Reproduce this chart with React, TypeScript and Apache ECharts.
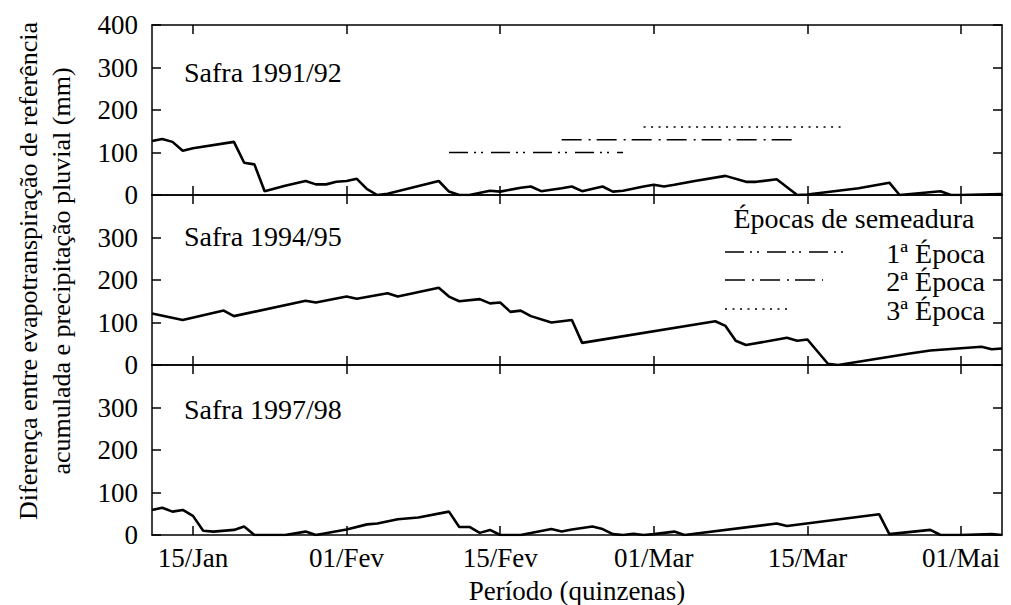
import React, { useEffect, useRef } from "react";
import * as echarts from "echarts";

// x = days counted from 15/Jan, y = accumulated ETo minus rainfall (mm)
const safra1991: [number, number][] = [
  [-4, 127], [-3, 132], [-2, 125], [-1, 104], [0, 110], [4, 125], [5, 76], [6, 72],
  [7, 9], [9, 22], [11, 33], [12, 25], [13, 25], [14, 31], [15, 33], [16, 38],
  [17, 14], [18, 0], [19, 3], [24, 33], [25, 8], [26, 0], [27, 0], [29, 10],
  [30, 8], [32, 17], [33, 20], [34, 9], [36, 16], [37, 20], [38, 9], [40, 20],
  [41, 8], [42, 10], [44, 20], [45, 24], [46, 20], [47, 24], [49, 33], [52, 45],
  [54, 31], [55, 31], [57, 37], [59, 0], [60, 1], [65, 16], [68, 29], [69, 0],
  [73, 9], [74, 0], [75, 0], [79, 2],
];

const safra1994: [number, number][] = [
  [-4, 121], [-1, 106], [3, 128], [4, 115], [11, 151], [12, 147], [15, 161],
  [16, 156], [19, 169], [20, 161], [24, 182], [25, 161], [26, 150], [28, 155],
  [29, 145], [30, 147], [31, 125], [32, 128], [33, 115], [35, 100], [37, 106],
  [38, 52], [51, 103], [52, 92], [53, 57], [54, 47], [58, 64], [59, 57], [60, 60],
  [62, 3], [63, 0], [70, 27], [72, 34], [77, 43], [78, 37], [79, 39],
];

const safra1997: [number, number][] = [
  [-4, 59], [-3, 64], [-2, 55], [-1, 59], [0, 45], [1, 10], [2, 8], [4, 12],
  [5, 20], [6, 0], [9, 0], [11, 8], [12, 0], [15, 13], [17, 25], [18, 27],
  [20, 37], [22, 41], [25, 55], [26, 19], [27, 19], [28, 5], [29, 12], [30, 0],
  [32, 0], [35, 14], [36, 8], [37, 13], [39, 20], [40, 14], [41, 2], [42, 0],
  [43, 3], [44, 0], [45, 2], [47, 8], [48, 0], [57, 27], [58, 21], [67, 49],
  [68, 2], [72, 12], [73, 0], [75, 0], [78, 2], [79, 0],
];

// Sowing periods drawn in the 1991/92 panel
const epocaNomes = ["1ª Época", "2ª Época", "3ª Época"];
const epocaInicio = [25, 36, 44];
const epocaFim = [42, 58.5, 63.5];
const epocaNivel = [100, 130, 160];

const safraNomes = ["Safra 1991/92", "Safra 1994/95", "Safra 1997/98"];
const quinzenaDias = [0, 15, 30, 45, 60, 75];
const quinzenas = ["15/Jan", "01/Fev", "15/Fev", "01/Mar", "15/Mar", "01/Mai"];
const yTicks = [0, 100, 200, 300, 400];

const X_MIN = -4;
const X_MAX = 79;
const Y_MAX = 400;
const FONT = "Times New Roman, Liberation Serif, DejaVu Serif, serif";
const FS = 27;

const GRID_W = 850;
const GRID_H = 170;
const TICK = 9; // tick length in pixels
const TICK_X = (TICK * (X_MAX - X_MIN)) / GRID_W; // same length in days
const TICK_Y = (TICK * Y_MAX) / GRID_H; // same length in mm

const dashes = [
  [19, 6, 2, 5, 2, 8],
  [20, 7, 2, 6],
  [2, 5.5],
];

// inward tick marks of one panel, expressed in data coordinates
function tickSegments() {
  const segs: any[] = [];
  quinzenaDias.forEach((d) => {
    segs.push([{ coord: [d, 0] }, { coord: [d, TICK_Y] }]);
    segs.push([{ coord: [d, Y_MAX] }, { coord: [d, Y_MAX - TICK_Y] }]);
  });
  yTicks.forEach((v) => {
    segs.push([{ coord: [X_MIN, v] }, { coord: [X_MIN + TICK_X, v] }]);
    segs.push([{ coord: [X_MAX, v] }, { coord: [X_MAX - TICK_X, v] }]);
  });
  return segs;
}

export default function App() {
  const ref = useRef<HTMLDivElement>(null);

  useEffect(() => {
    if (!ref.current) return;
    const chart = echarts.init(ref.current, undefined, { renderer: "svg" });

    const panelTops = [25, 195, 365];
    const series = [safra1991, safra1994, safra1997];

    const grids = panelTops.map((top) => ({
      left: 152,
      top,
      width: GRID_W,
      height: GRID_H,
    }));

    const axisLineStyle = { color: "#000", width: 1.5 };
    const xAxes: any[] = [];
    const yAxes: any[] = [];
    panelTops.forEach((_, i) => {
      const isLast = i === panelTops.length - 1;
      ["bottom", "top"].forEach((pos) => {
        const labeled = isLast && pos === "bottom";
        xAxes.push({
          type: "value",
          gridIndex: i,
          position: pos,
          min: X_MIN,
          max: X_MAX,
          axisLine: { show: true, onZero: false, lineStyle: { ...axisLineStyle } },
          splitLine: { show: false },
          axisTick: { show: false },
          axisLabel: {
            show: labeled,
            customValues: quinzenaDias,
            formatter: (v: number) => quinzenas[quinzenaDias.indexOf(v)] ?? "",
            fontSize: FS,
            fontFamily: FONT,
            color: "#000",
            margin: 9,
          },
          name: labeled ? "Período (quinzenas)" : "",
          nameLocation: "middle",
          nameGap: 42,
          nameTextStyle: { fontSize: FS, fontFamily: FONT, color: "#000" },
        });
      });
      ["left", "right"].forEach((pos) => {
        yAxes.push({
          type: "value",
          gridIndex: i,
          position: pos,
          min: 0,
          max: Y_MAX,
          interval: 100,
          axisLine: { show: true, onZero: false, lineStyle: { ...axisLineStyle } },
          splitLine: { show: false },
          axisTick: { show: false },
          axisLabel: {
            show: pos === "left",
            formatter: (v: number) => (i > 0 && v === Y_MAX ? "" : String(v)),
            fontSize: FS,
            fontFamily: FONT,
            color: "#000",
            margin: 14,
          },
        });
      });
    });

    const seriesList: any[] = series.map((data, i) => ({
      type: "line",
      name: safraNomes[i],
      xAxisIndex: i * 2,
      yAxisIndex: i * 2,
      data,
      symbol: "none",
      lineStyle: { color: "#000", width: 2.6 },
      markLine: {
        silent: true,
        animation: false,
        symbol: ["none", "none"],
        label: { show: false },
        emphasis: { disabled: true },
        lineStyle: { color: "#000", width: 1.5, type: "solid" },
        data: tickSegments(),
      },
    }));

    epocaNomes.forEach((nome, k) => {
      seriesList.push({
        type: "line",
        name: nome,
        xAxisIndex: 0,
        yAxisIndex: 0,
        data: [
          [epocaInicio[k], epocaNivel[k]],
          [epocaFim[k], epocaNivel[k]],
        ],
        symbol: "none",
        lineStyle: { color: "#000", width: 1.5, type: dashes[k] },
      });
    });

    const textStyle = { fontSize: FS, fontFamily: FONT, fill: "#000" };
    const graphic: any[] = [];

    // panel titles
    const titleY = [72, 236, 409];
    safraNomes.forEach((t, i) => {
      graphic.push({
        type: "text",
        x: 184,
        y: titleY[i],
        style: { ...textStyle, fontSize: 28, text: t, align: "left", verticalAlign: "middle" },
      });
    });

    // y-axis title, two rotated lines
    const yTitle = [
      "Diferença entre evapotranspiração de referência",
      "acumulada e precipitação pluvial (mm)",
    ];
    [28, 61].forEach((x, i) => {
      graphic.push({
        type: "text",
        x,
        y: 271,
        rotation: Math.PI / 2,
        style: { ...textStyle, fontSize: 26, text: yTitle[i], align: "center", verticalAlign: "middle" },
      });
    });

    // legend of sowing periods
    graphic.push({
      type: "text",
      x: 854,
      y: 218,
      style: { ...textStyle, fontSize: 28, text: "Épocas de semeadura", align: "center", verticalAlign: "middle" },
    });
    const legY = [252, 280, 309];
    const legEnd = [845, 823, 790];
    epocaNomes.forEach((nome, k) => {
      graphic.push({
        type: "line",
        shape: { x1: 725, y1: legY[k], x2: legEnd[k], y2: legY[k] },
        style: { stroke: "#000", lineWidth: 1.5, lineDash: dashes[k] },
      });
      graphic.push({
        type: "text",
        x: 985,
        y: legY[k] + 1,
        style: { ...textStyle, fontSize: 28, text: nome, align: "right", verticalAlign: "middle" },
      });
    });

    chart.setOption({
      animation: false,
      backgroundColor: "#fff",
      grid: grids,
      xAxis: xAxes,
      yAxis: yAxes,
      series: seriesList,
      graphic,
    });

    return () => chart.dispose();
  }, []);

  return (
    <div
      ref={ref}
      style={{ position: "absolute", left: 0, top: 0, width: 1011, height: 605 }}
    />
  );
}
